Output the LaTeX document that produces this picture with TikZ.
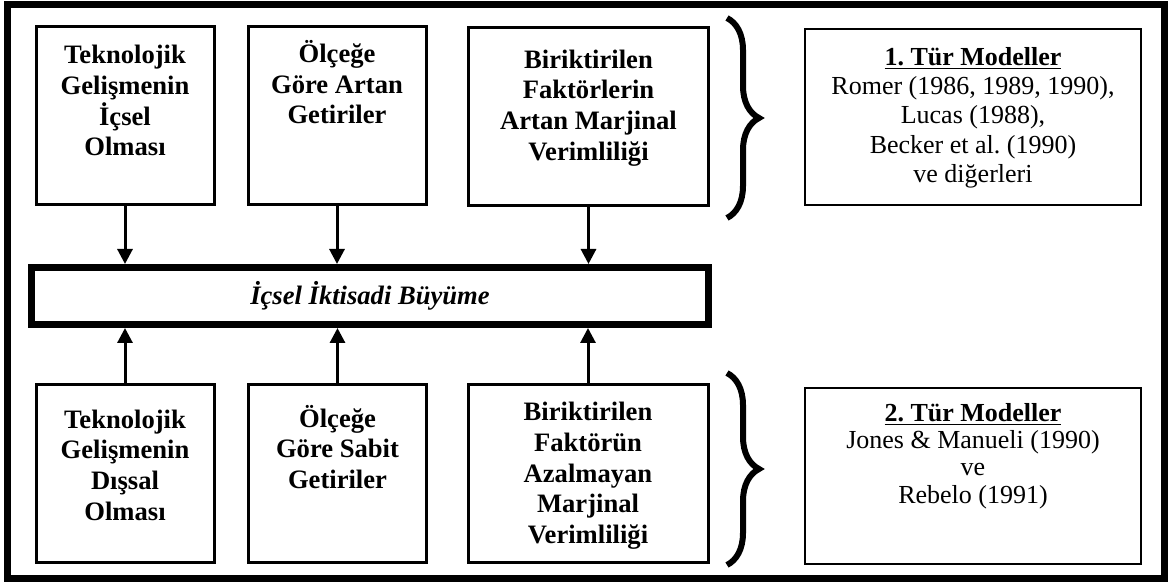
\documentclass[tikz,border=0pt]{standalone}
\usepackage{fontspec}
\setmainfont{Liberation Serif}
\usetikzlibrary{positioning,arrows.meta,decorations.pathreplacing}
\tikzset{
    box/.style={rectangle, draw, line width=1.5pt, minimum width=89pt, minimum height=89pt, inner sep=0pt},
    widebox/.style={box, minimum width=120pt},
    modelbox/.style={rectangle, draw, line width=1pt, minimum width=168pt, minimum height=88pt, inner sep=0pt},
    bar/.style={rectangle, draw, line width=3.5pt, minimum width=338.5pt, minimum height=28.5pt, inner sep=0pt,
        font=\fontsize{13.3}{16}\selectfont\bfseries\itshape},
    boxtext/.style={inner sep=0pt, align=center, font=\fontsize{13.3}{15.3}\selectfont\bfseries},
    modeltext/.style={inner sep=0pt, align=center, font=\fontsize{13}{14.6}\selectfont},
    flow/.style={-{Triangle[width=7.5pt, length=7.5pt]}, line width=1.5pt},
    curly/.style={decorate, decoration={brace, amplitude=16pt}, line width=3pt}
}

\begin{document}
\begin{tikzpicture}[x=0.5pt, y=-0.5pt]
    \useasboundingbox (0, 0) rectangle (1168, 582);
    \draw[line width=3.5pt] (7, 4.5) rectangle (1164.5, 578.5);

    \node (u1) [box] at (125, 115.5) {};
    \node (u2) [box] at (337, 115.5) {};
    \node (u3) [widebox] at (588.5, 117) {};
    \node (l1) [box] at (125, 474) {};
    \node (l2) [box] at (337.5, 474) {};
    \node (l3) [widebox] at (588, 473.5) {};
    \node (g) [bar] at (370, 296) {İçsel İktisadi Büyüme};
    \node (m1) [modelbox] at (973, 117) {};
    \node (m2) [modelbox] at (973, 476) {};

    \node (u1t) [boxtext, below=10pt of u1.north] {Teknolojik\\Gelişmenin\\İçsel\\Olması};
    \node (u2t) [boxtext, below=7.5pt of u2.north] {Ölçeğe\\Göre Artan\\Getiriler};
    \node (u3t) [boxtext, below=11.5pt of u3.north] {Biriktirilen\\Faktörlerin\\Artan Marjinal\\Verimliliği};
    \node (l1t) [boxtext, below=13pt of l1.north] {Teknolojik\\Gelişmenin\\Dışsal\\Olması};
    \node (l2t) [boxtext, below=10.5pt of l2.north] {Ölçeğe\\Göre Sabit\\Getiriler};
    \node (l3t) [boxtext, below=9.5pt of l3.north] {Biriktirilen\\Faktörün\\Azalmayan\\Marjinal\\Verimliliği};
    \node (m1t) [modeltext, below=9.5pt of m1.north] {\underline{\textbf{1.\ Tür Modeller}}\\Romer (1986, 1989, 1990),\\Lucas (1988),\\Becker et al.\ (1990)\\ve diğerleri};
    \node (m2t) [modeltext, below=8pt of m2.north, font=\fontsize{13}{13.6}\selectfont] {\underline{\textbf{2.\ Tür Modeller}}\\Jones \& Manueli (1990)\\ve\\Rebelo (1991)};

    \draw[flow] (u1.south) -- (u1.south |- g.north);
    \draw[flow] (u2.south) -- (u2.south |- g.north);
    \draw[flow] (u3.south) -- (u3.south |- g.north);
    \draw[flow] (l1.north) -- (l1.north |- g.south);
    \draw[flow] (l2.north) -- (l2.north |- g.south);
    \draw[flow] (l3.north) -- (l3.north |- g.south);

    \coordinate (b1s) at (727, 18);
    \coordinate (b1e) at (727, 218);
    \coordinate (b2s) at (727, 373);
    \coordinate (b2e) at (727, 565);
    \draw[curly] (b1s) -- (b1e);
    \draw[curly] (b2s) -- (b2e);
\end{tikzpicture}
\end{document}
